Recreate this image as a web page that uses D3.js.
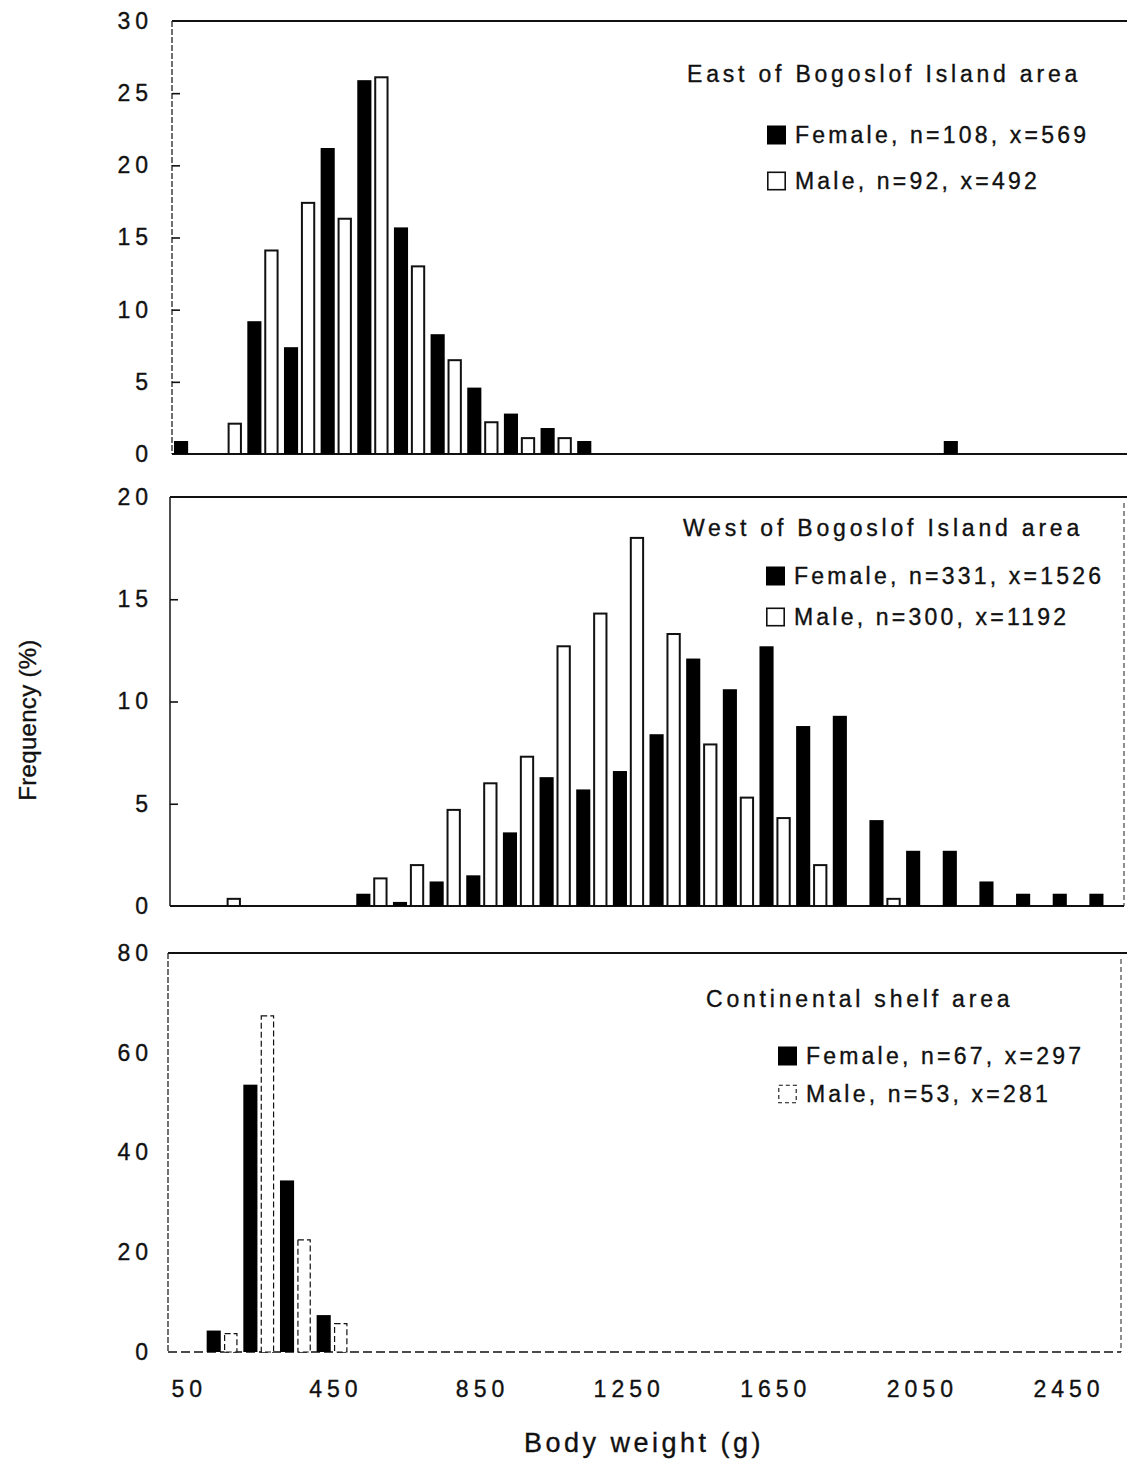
<!DOCTYPE html>
<html>
<head>
<meta charset="utf-8">
<script src="https://cdn.jsdelivr.net/npm/d3@7/dist/d3.min.js"></script>
<style>
  body { margin: 0; background: #fff; }
  svg text { font-family: "Liberation Sans", Arial, Helvetica, sans-serif; fill: #111; stroke: #111; stroke-width: 0.35px; }
</style>
</head>
<body>
<div id="chart"></div>
<script>
// 100 g weight classes, labelled by midpoint
const binMids = [50, 150, 250, 350, 450, 550, 650, 750, 850, 950, 1050, 1150, 1250,
                 1350, 1450, 1550, 1650, 1750, 1850, 1950, 2050, 2150, 2250, 2350, 2450, 2550]
const xTicks = [50, 450, 850, 1250, 1650, 2050, 2450]

// Frequency (%) per class
const eastFemale = [0.9, 0, 9.2, 7.4, 21.2, 25.9, 15.7, 8.3, 4.6, 2.8, 1.8, 0.9, 0,
                    0, 0, 0, 0, 0, 0, 0, 0, 0.9, 0, 0, 0, 0]
const eastMale   = [0, 2.1, 14.1, 17.4, 16.3, 26.1, 13.0, 6.5, 2.2, 1.1, 1.1, 0, 0,
                    0, 0, 0, 0, 0, 0, 0, 0, 0, 0, 0, 0, 0]
const westFemale = [0, 0, 0, 0, 0, 0.6, 0.2, 1.2, 1.5, 3.6, 6.3, 5.7, 6.6,
                    8.4, 12.1, 10.6, 12.7, 8.8, 9.3, 4.2, 2.7, 2.7, 1.2, 0.6, 0.6, 0.6]
const westMale   = [0, 0.35, 0, 0, 0, 1.35, 2.0, 4.7, 6.0, 7.3, 12.7, 14.3, 18.0,
                    13.3, 7.9, 5.3, 4.3, 2.0, 0, 0.35, 0, 0, 0, 0, 0, 0]
const shelfFemale = [0, 4.3, 53.6, 34.4, 7.4, 0, 0, 0, 0, 0, 0, 0, 0,
                     0, 0, 0, 0, 0, 0, 0, 0, 0, 0, 0, 0, 0]
const shelfMale   = [0, 3.7, 67.4, 22.5, 5.7, 0, 0, 0, 0, 0, 0, 0, 0,
                     0, 0, 0, 0, 0, 0, 0, 0, 0, 0, 0, 0, 0]

const panelTitles = ["East of Bogoslof Island area", "West of Bogoslof Island area", "Continental shelf area"]
const femaleLabels = ["Female, n=108, x=569", "Female, n=331, x=1526", "Female, n=67, x=297"]
const maleLabels = ["Male, n=92, x=492", "Male, n=300, x=1192", "Male, n=53, x=281"]
const yMaxes = [30, 20, 80]
const yTicksEast = [0, 5, 10, 15, 20, 25, 30]
const yTicksWest = [0, 5, 10, 15, 20]
const yTicksShelf = [0, 20, 40, 60, 80]

const width = 1127
const height = 1466

const svg = d3.select("#chart")
  .append("svg")
  .attr("width", width)
  .attr("height", height)

// shared weight scale (class start -> px)
const xScale = d3.scaleLinear()
  .domain([0, 2600])
  .range([172, 1125])
const binPx = xScale(100) - xScale(0)

// layout for each panel (scan is slightly skewed, hence dx)
const panels = [
  { female: eastFemale, male: eastMale, ticks: yTicksEast, top: 21, bottom: 454, dx: 0, left: 172,
    tick: 8, titleX: 687, titleY: 82, legX: 767, femY: 135, maleY: 181 },
  { female: westFemale, male: westMale, ticks: yTicksWest, top: 497, bottom: 906, dx: -1, left: 170,
    tick: 8, titleX: 683, titleY: 536, legX: 766, femY: 576, maleY: 617 },
  { female: shelfFemale, male: shelfMale, ticks: yTicksShelf, top: 953, bottom: 1352, dx: -4, left: 168,
    tick: 0, titleX: 706, titleY: 1007, legX: 778, femY: 1056, maleY: 1094 }
]

panels.forEach((p, i) => {
  const yScale = d3.scaleLinear()
    .domain([0, yMaxes[i]])
    .range([p.bottom, p.top])

  const g = svg.append("g")
  const right = xScale(2600) + p.dx

  // frame
  g.append("line")
    .attr("x1", p.left).attr("x2", width)
    .attr("y1", p.top).attr("y2", p.top)
    .attr("stroke", "#111").attr("stroke-width", 2)

  g.append("line")
    .attr("x1", p.left).attr("x2", p.left)
    .attr("y1", p.top).attr("y2", p.bottom)
    .attr("stroke", "#222")
    .attr("stroke-width", i === 1 ? 1.6 : 1.3)
    .attr("stroke-dasharray", i === 1 ? null : "6,2")

  if (i > 0) {
    g.append("line")
      .attr("x1", right).attr("x2", right)
      .attr("y1", p.top + 6).attr("y2", p.bottom)
      .attr("stroke", "#333").attr("stroke-width", 1.1)
      .attr("stroke-dasharray", "5,3")
  }

  g.append("line")
    .attr("x1", p.left).attr("x2", i === 0 ? width : right)
    .attr("y1", p.bottom).attr("y2", p.bottom)
    .attr("stroke", "#111")
    .attr("stroke-width", i === 2 ? 1.4 : 2)
    .attr("stroke-dasharray", i === 2 ? "9,4" : null)

  // y axis labels + inward ticks
  const yAxis = d3.axisLeft(yScale)
    .tickValues(p.ticks)
    .tickSizeInner(-p.tick)
    .tickSizeOuter(0)
    .tickPadding(p.left - 153)
    .tickFormat(d3.format("d"))

  const ya = g.append("g")
    .attr("transform", `translate(${p.left},0)`)
    .call(yAxis)
  ya.select(".domain").remove()
  ya.selectAll(".tick line")
    .attr("stroke", "#111").attr("stroke-width", 1.6)
    .filter(d => d === 0 || d === yMaxes[i]).remove()
  ya.selectAll("text")
    .style("font-size", "23px")
    .style("letter-spacing", "5px")
    .attr("fill", "#111")

  // bars
  const femaleData = binMids.map((m, k) => ({ mid: m, v: p.female[k] })).filter(d => d.v > 0)
  const maleData = binMids.map((m, k) => ({ mid: m, v: p.male[k] })).filter(d => d.v > 0)

  g.selectAll(".female")
    .data(femaleData)
    .join("rect")
      .attr("class", "female")
      .attr("x", d => xScale(d.mid - 50) + p.dx + binPx * 0.055)
      .attr("width", binPx * 0.385)
      .attr("y", d => yScale(d.v))
      .attr("height", d => yScale(0) - yScale(d.v))
      .attr("fill", "#000")

  g.selectAll(".male")
    .data(maleData)
    .join("rect")
      .attr("class", "male")
      .attr("x", d => xScale(d.mid - 50) + p.dx + binPx * 0.52 + 0.9)
      .attr("width", binPx * 0.385 - 1.8)
      .attr("y", d => yScale(d.v))
      .attr("height", d => yScale(0) - yScale(d.v))
      .attr("fill", "#fff")
      .attr("stroke", "#111")
      .attr("stroke-width", i === 2 ? 1.2 : 2)
      .attr("stroke-dasharray", i === 2 ? "6,3" : null)

  // title + legend
  g.append("text")
    .text(panelTitles[i])
    .attr("x", p.titleX)
    .attr("y", p.titleY)
    .style("font-size", "23px")
    .style("letter-spacing", "3.8px")

  g.append("rect")
    .attr("x", p.legX).attr("y", p.femY - 9.5)
    .attr("width", 19).attr("height", 19)
    .attr("fill", "#000")

  g.append("rect")
    .attr("x", p.legX + 0.8).attr("y", p.maleY - 8.7)
    .attr("width", 17.4).attr("height", 17.4)
    .attr("fill", "#fff")
    .attr("stroke", "#111")
    .attr("stroke-width", i === 2 ? 1.1 : 1.6)
    .attr("stroke-dasharray", i === 2 ? "4,3" : null)

  g.append("text")
    .text(femaleLabels[i])
    .attr("x", p.legX + 28)
    .attr("y", p.femY + 8)
    .style("font-size", "23px")
    .style("letter-spacing", "3.2px")

  g.append("text")
    .text(maleLabels[i])
    .attr("x", p.legX + 28)
    .attr("y", p.maleY + 8)
    .style("font-size", "23px")
    .style("letter-spacing", "3.2px")
})

// x axis labels, under the bottom panel
const shelf = panels[2]
const xAxis = d3.axisBottom(xScale)
  .tickValues(xTicks)
  .tickSize(0)
  .tickPadding(29)
  .tickFormat(d3.format("d"))

const xa = svg.append("g")
  .attr("transform", `translate(${shelf.dx + 2.5},${shelf.bottom})`)
  .call(xAxis)
xa.select(".domain").remove()
xa.selectAll("text")
  .style("font-size", "23px")
  .style("letter-spacing", "5px")
  .attr("fill", "#111")

// axis titles
svg.append("text")
  .text("Body weight (g)")
  .attr("x", 644)
  .attr("y", 1452)
  .attr("text-anchor", "middle")
  .style("font-size", "27px")
  .style("letter-spacing", "3.5px")

svg.append("text")
  .text("Frequency (%)")
  .attr("transform", "translate(36,720) rotate(-90)")
  .attr("text-anchor", "middle")
  .style("font-size", "24px")
  .style("letter-spacing", "0.3px")
</script>
</body>
</html>
